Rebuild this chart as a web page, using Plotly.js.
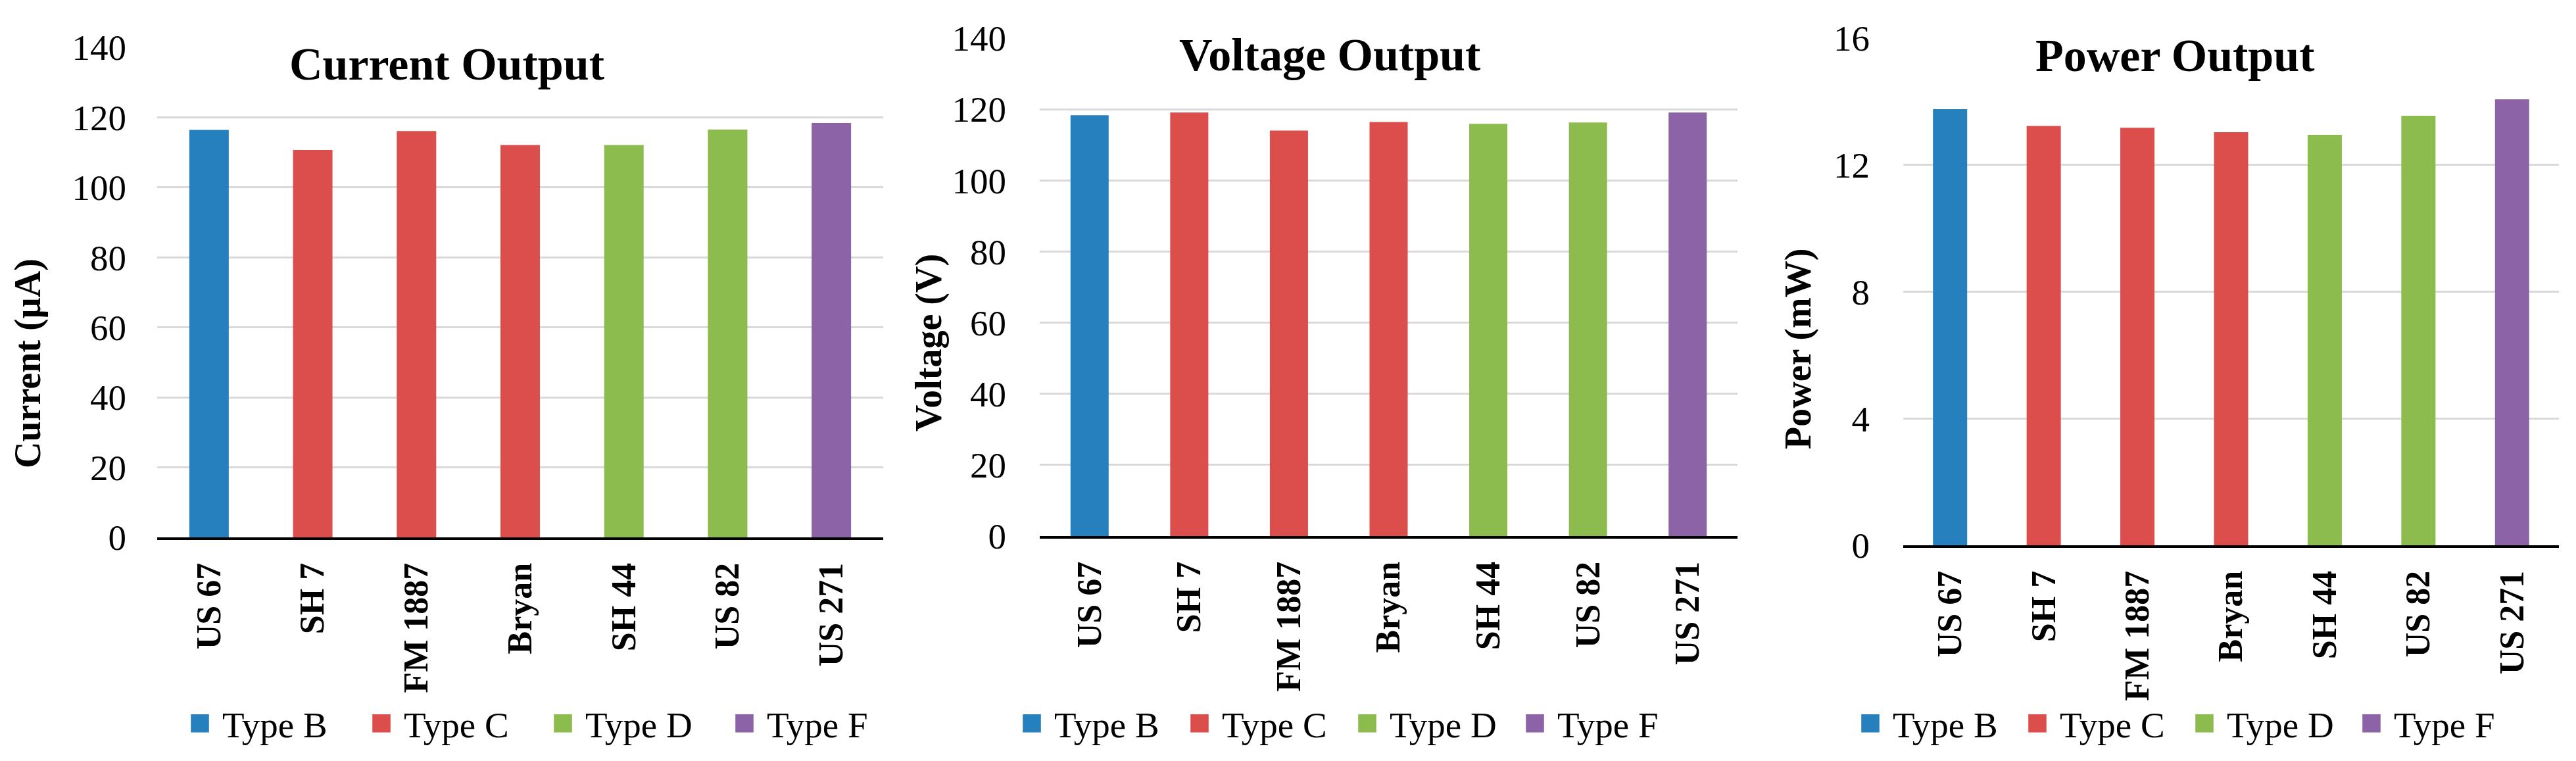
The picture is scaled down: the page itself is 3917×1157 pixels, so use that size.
<!DOCTYPE html>
<html>
<head>
<meta charset="utf-8">
<script src="https://cdn.plot.ly/plotly-3.0.1.min.js"></script>
<style>
  html, body { margin: 0; padding: 0; background: #fff; }
  #chart { width: 3917px; height: 1157px; }
</style>
</head>
<body>
<div id="chart"></div>
<script>
// site names along x, and the pavement type of each site
const sites = ["US 67", "SH 7", "FM 1887", "Bryan", "SH 44", "US 82", "US 271"];
const siteTypes = ["Type B", "Type C", "Type C", "Type C", "Type D", "Type D", "Type F"];
const typeNames = ["Type B", "Type C", "Type D", "Type F"];
const typeColors = ["#2780be", "#dc4e4c", "#8cbb4e", "#8b63a6"];

// values
const currentUA = [116.4, 110.7, 116.1, 112.1, 112.1, 116.5, 118.4];
const voltageV = [118.3, 119.1, 114.0, 116.4, 115.9, 116.3, 119.1];
const powerMW = [13.76, 13.23, 13.17, 13.03, 12.95, 13.55, 14.07];

const W = 3917, H = 1157;
const serif = "Liberation Serif, Times New Roman, serif";

// one panel per measurement (positions in px of the full picture)
const panels = [
    { values: currentUA, title: "Current Output", ytitle: "Current (µA)",
      range: [0, 140], dtick: 20, barPx: 60,
      xd: [239, 1343], yd: [72, 817], standoff: 46,
      titlePos: [679, 97], ytitlePos: [42, 553],
      legendX: 298, entry: 231 },
    { values: voltageV, title: "Voltage Output", ytitle: "Voltage (V)",
      range: [0, 140], dtick: 20, barPx: 58,
      xd: [1581, 2642], yd: [58, 815], standoff: 50,
      titlePos: [2022, 83], ytitlePos: [1412, 521],
      legendX: 1563, entry: 210 },
    { values: powerMW, title: "Power Output", ytitle: "Power (mW)",
      range: [0, 16], dtick: 4, barPx: 52,
      xd: [2894, 3891], yd: [58, 829], standoff: 50,
      titlePos: [3307, 84], ytitlePos: [2734, 531],
      legendX: 2838, entry: 209 },
];

const traces = [];
const layout = {
    width: W, height: H,
    margin: { l: 0, r: 0, t: 0, b: 0 },
    paper_bgcolor: "#fff", plot_bgcolor: "#fff",
    font: { family: serif, color: "#000" },
    barmode: "relative",
    annotations: [],
};

panels.forEach((p, i) => {
    const n = i === 0 ? "" : String(i + 1);
    const catPx = (p.xd[1] - p.xd[0]) / sites.length;
    typeNames.forEach((t, k) => {
        const xs = [], ys = [];
        sites.forEach((s, j) => {
            if (siteTypes[j] === t) { xs.push(s); ys.push(p.values[j]); }
        });
        traces.push({
            type: "bar", name: t, x: xs, y: ys,
            xaxis: "x" + n, yaxis: "y" + n,
            width: p.barPx / catPx,
            marker: { color: typeColors[k], line: { width: 0 } },
            legend: "legend" + n,
            hoverinfo: "x+y",
        });
    });

    layout["xaxis" + n] = {
        domain: [p.xd[0] / W, p.xd[1] / W],
        anchor: "y" + n,
        type: "category",
        categoryorder: "array", categoryarray: sites,
        tickangle: -90,
        tickfont: { family: serif, size: 52, color: "#000", weight: "bold" },
        ticks: "", ticklabelstandoff: 14,
        showline: true, linecolor: "#000", linewidth: 4,
        showgrid: false, fixedrange: true,
    };
    layout["yaxis" + n] = {
        domain: [1 - p.yd[1] / H, 1 - p.yd[0] / H],
        anchor: "x" + n,
        range: p.range, dtick: p.dtick,
        tickfont: { family: serif, size: 55, color: "#000" },
        ticks: "", ticklabelstandoff: p.standoff,
        showgrid: true, gridcolor: "#d9d9d9", gridwidth: 3,
        zeroline: false, showline: false, fixedrange: true,
    };
    layout["legend" + n] = {
        orientation: "h",
        x: p.legendX / W, xanchor: "left",
        y: 1 - 1100 / H, yanchor: "middle",
        entrywidth: p.entry, entrywidthmode: "pixels",
        font: { family: serif, size: 55, color: "#000" },
        bgcolor: "rgba(0,0,0,0)",
    };

    layout.annotations.push({
        text: p.title, xref: "paper", yref: "paper",
        x: p.titlePos[0] / W, y: 1 - p.titlePos[1] / H,
        xanchor: "center", yanchor: "middle", showarrow: false,
        font: { family: serif, size: 70, color: "#000", weight: "bold" },
    });
    layout.annotations.push({
        text: p.ytitle, xref: "paper", yref: "paper",
        x: p.ytitlePos[0] / W, y: 1 - p.ytitlePos[1] / H,
        xanchor: "center", yanchor: "middle", showarrow: false,
        textangle: -90,
        font: { family: serif, size: 56, color: "#000", weight: "bold" },
    });
});

Plotly.newPlot("chart", traces, layout, { staticPlot: true }).then(() => {
    // legend swatches are tiny at this size, blow them up to ~28px
    // (and stop the legend boxes from clipping the first one)
    document.querySelectorAll("#chart .scrollbox").forEach((el) => {
        el.removeAttribute("clip-path");
    });
    document.querySelectorAll("#chart .legendpoints path").forEach((el) => {
        el.setAttribute("transform", "translate(6,0) scale(2.3)");
    });
});
</script>
</body>
</html>
